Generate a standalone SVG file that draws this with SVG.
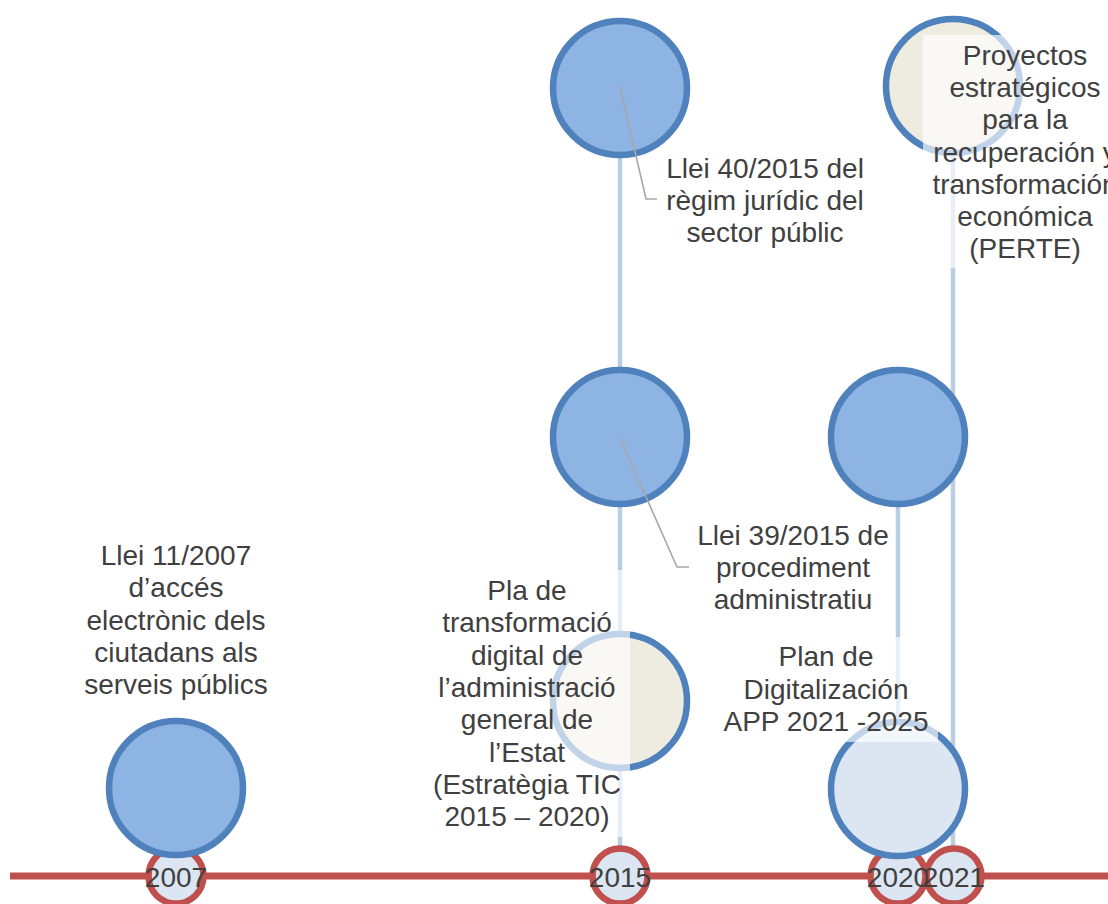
<svg xmlns="http://www.w3.org/2000/svg" width="1108" height="904" viewBox="0 0 1108 904">
<style>
.lbl{font-family:"Liberation Sans",Arial,sans-serif;font-size:28px;fill:#404040;text-anchor:middle}
.big{fill:#8eb4e3;stroke:#4f81bd;stroke-width:6.5}
.tan{fill:#eeece1;stroke:#4f81bd;stroke-width:6.5}
.pale{fill:#dce6f2;stroke:#4f81bd;stroke-width:6.5}
.yr{fill:#dce6f2;stroke:#c0504d;stroke-width:6.5}
.vline{stroke:#b9cde5;stroke-width:4.5;fill:none}
.lead{stroke:#a6a6a6;stroke-width:1.6;fill:none}
.veil{fill:#ffffff;fill-opacity:0.65}
</style>
<rect width="1108" height="904" fill="#ffffff"/>
<g id="connectors">
  <line x1="10" y1="876" x2="1108" y2="876" stroke="#c0504d" stroke-width="7"/>
  <line class="vline" x1="620" y1="88" x2="620" y2="848"/>
  <line class="vline" x1="898" y1="437" x2="898" y2="848"/>
  <line class="vline" x1="953" y1="86" x2="953" y2="848"/>
</g>
<g id="year-2007"><circle class="yr" cx="176" cy="876" r="27.5"/></g>
<g id="year-2015"><circle class="yr" cx="620" cy="876" r="27.5"/></g>
<g id="year-2020"><circle class="yr" cx="898" cy="876" r="27.5"/></g>
<g id="year-2021"><circle class="yr" cx="954" cy="876" r="27.5"/></g>
<g id="llei-11-2007">
  <circle class="big" cx="176" cy="788" r="67"/>
  <text class="lbl"><tspan x="176" y="565">Llei 11/2007</tspan><tspan x="176" y="597">d’accés</tspan><tspan x="176" y="630">electrònic dels</tspan><tspan x="176" y="662">ciutadans als</tspan><tspan x="176" y="694">serveis públics</tspan></text>
</g>
<g id="llei-40-2015">
  <circle class="big" cx="620" cy="88" r="67"/>
  <text class="lbl"><tspan x="765" y="178">Llei 40/2015 del</tspan><tspan x="765" y="210">règim jurídic del</tspan><tspan x="765" y="242">sector públic</tspan></text>
</g>
<g id="llei-39-2015">
  <circle class="big" cx="620" cy="437" r="67"/>
  <text class="lbl"><tspan x="793" y="545">Llei 39/2015 de</tspan><tspan x="793" y="577">procediment</tspan><tspan x="793" y="609">administratiu</tspan></text>
</g>
<g id="pla-transformacio">
  <circle class="tan" cx="620" cy="701" r="67"/>
  <rect class="veil" x="424" y="570" width="206" height="267"/>
  <text class="lbl"><tspan x="527" y="600">Pla de</tspan><tspan x="527" y="632">transformació</tspan><tspan x="527" y="665">digital de</tspan><tspan x="527" y="697">l’administració</tspan><tspan x="527" y="729">general de</tspan><tspan x="527" y="762">l’Estat</tspan><tspan x="527" y="794">(Estratègia TIC</tspan><tspan x="527" y="826">2015 – 2020)</tspan></text>
</g>
<g id="event-2020">
  <circle class="big" cx="898" cy="437" r="67"/>
</g>
<g id="plan-digitalizacion">
  <circle class="pale" cx="898" cy="789" r="67"/>
  <rect class="veil" x="714" y="637" width="224" height="105"/>
  <text class="lbl"><tspan x="826" y="666">Plan de</tspan><tspan x="826" y="699">Digitalización</tspan><tspan x="826" y="731">APP 2021 -2025</tspan></text>
</g>
<g id="perte">
  <circle class="tan" cx="953" cy="86" r="67"/>
  <rect class="veil" x="923" y="35" width="190" height="233"/>
  <text class="lbl"><tspan x="1025" y="65">Proyectos</tspan><tspan x="1025" y="97">estratégicos</tspan><tspan x="1025" y="129">para la</tspan><tspan x="1025" y="162">recuperación y</tspan><tspan x="1025" y="194">transformación</tspan><tspan x="1025" y="226">económica</tspan><tspan x="1025" y="258">(PERTE)</tspan></text>
</g>
<g id="leaders">
  <polyline class="lead" points="620,87 646,199 657,199"/>
  <polyline class="lead" points="620,438 677,567 689,567"/>
</g>
<g id="year-labels">
  <text class="lbl" x="176" y="887">2007</text>
  <text class="lbl" x="620" y="887">2015</text>
  <text class="lbl" x="898" y="887">2020</text>
  <text class="lbl" x="954" y="887">2021</text>
</g>
</svg>
